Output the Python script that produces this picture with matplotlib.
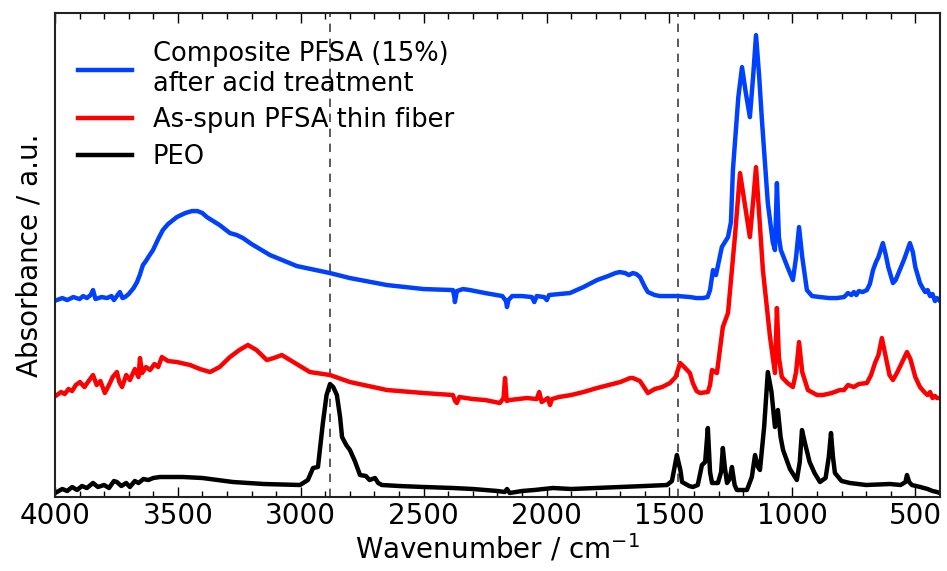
import matplotlib.pyplot as plt
import numpy as np

# wavenumber (cm-1) and absorbance (a.u., offset)
composite_wn = [3992, 3970, 3950, 3925, 3900, 3885, 3870, 3855, 3845, 3835, 3810, 3788,
                3770, 3760, 3745, 3736, 3725, 3715, 3700, 3690, 3680, 3666, 3655, 3642,
                3630, 3620, 3601, 3580, 3561, 3540, 3504, 3470, 3443, 3420, 3400, 3382,
                3330, 3288, 3260, 3235, 3200, 3125, 3016, 2881, 2800, 2649, 2500, 2390,
                2381, 2375, 2373, 2365, 2340, 2312, 2250, 2180, 2165, 2161, 2155, 2140,
                2100, 2060, 2050, 2040, 2010, 1999, 1990, 1950, 1905, 1850, 1795, 1750,
                1720, 1702, 1680, 1665, 1649, 1635, 1620, 1600, 1588, 1560, 1539, 1500,
                1465, 1417, 1390, 1364, 1345, 1335, 1323, 1311, 1300, 1287, 1262, 1250,
                1242, 1220, 1205, 1190, 1173, 1160, 1148, 1135, 1124, 1100, 1080, 1071,
                1063, 1055, 1047, 1020, 998, 985, 973, 960, 941, 920, 888, 850, 819, 790,
                774, 760, 750, 740, 730, 715, 697, 685, 672, 660, 650, 632, 620, 610,
                591, 580, 575, 563, 545, 522, 510, 500, 481, 470, 460, 450, 440, 430,
                420, 412, 400]
composite_abs = [1.97, 1.99, 1.97, 2.00, 1.98, 2.01, 1.99, 2.02, 2.07, 1.98, 2.00, 1.99,
                 2.01, 1.97, 2.02, 2.05, 1.99, 2.00, 2.03, 2.06, 2.09, 2.15, 2.22, 2.32,
                 2.36, 2.40, 2.47, 2.58, 2.67, 2.73, 2.80, 2.84, 2.86, 2.86, 2.84, 2.80,
                 2.72, 2.64, 2.62, 2.59, 2.53, 2.42, 2.31, 2.24, 2.19, 2.12, 2.08, 2.07,
                 2.07, 2.00, 1.95, 2.06, 2.08, 2.07, 2.04, 2.01, 1.96, 1.90, 1.97, 2.01,
                 2.01, 2.00, 1.95, 2.01, 2.00, 1.97, 2.02, 2.03, 2.04, 2.10, 2.17, 2.21,
                 2.24, 2.25, 2.24, 2.22, 2.24, 2.23, 2.20, 2.10, 2.05, 2.02, 2.01, 2.01,
                 2.01, 2.00, 1.99, 1.99, 2.00, 2.07, 2.27, 2.22, 2.35, 2.50, 2.60, 2.75,
                 3.27, 4.00, 4.30, 4.05, 3.80, 4.20, 4.62, 4.20, 3.77, 2.94, 2.55, 2.47,
                 3.14, 2.60, 2.47, 2.30, 2.17, 2.40, 2.70, 2.40, 2.07, 2.01, 2.00, 1.99,
                 1.99, 2.00, 2.04, 2.02, 2.05, 2.02, 2.06, 2.05, 2.07, 2.13, 2.27, 2.35,
                 2.40, 2.54, 2.42, 2.30, 2.14, 2.17, 2.20, 2.27, 2.38, 2.54, 2.45, 2.30,
                 2.14, 2.09, 2.05, 2.07, 2.01, 2.03, 1.96, 1.99, 1.96]

asspun_wn = [3992, 3975, 3960, 3945, 3930, 3915, 3898, 3880, 3860, 3845, 3830, 3815,
             3797, 3780, 3765, 3748, 3738, 3727, 3710, 3695, 3675, 3660, 3654, 3645,
             3630, 3613, 3595, 3580, 3565, 3540, 3504, 3450, 3410, 3369, 3330, 3288,
             3250, 3215, 3180, 3138, 3110, 3077, 3030, 2963, 2881, 2800, 2649, 2500,
             2381, 2372, 2365, 2355, 2300, 2250, 2190, 2175, 2169, 2162, 2150, 2080,
             2040, 2030, 2020, 1995, 1986, 1978, 1950, 1900, 1850, 1795, 1700, 1660,
             1649, 1620, 1588, 1560, 1530, 1498, 1475, 1457, 1440, 1417, 1405, 1390,
             1376, 1344, 1335, 1327, 1307, 1283, 1262, 1234, 1213, 1195, 1173, 1160,
             1148, 1120, 1091, 1071, 1063, 1055, 1043, 1020, 998, 985, 973, 960, 937,
             900, 876, 840, 807, 790, 774, 750, 730, 697, 680, 664, 650, 636, 620, 605,
             591, 575, 563, 534, 520, 500, 481, 460, 450, 440, 430, 420, 412, 400]
asspun_abs = [1.02, 1.05, 1.03, 1.08, 1.06, 1.12, 1.15, 1.10, 1.17, 1.22, 1.12, 1.16,
              1.04, 1.12, 1.20, 1.25, 1.15, 1.10, 1.22, 1.17, 1.28, 1.20, 1.39, 1.24,
              1.30, 1.27, 1.33, 1.30, 1.40, 1.36, 1.35, 1.32, 1.28, 1.25, 1.30, 1.40,
              1.47, 1.52, 1.47, 1.37, 1.39, 1.42, 1.35, 1.25, 1.22, 1.15, 1.07, 1.04,
              1.02, 0.96, 0.94, 1.00, 0.98, 0.97, 0.94, 0.99, 1.19, 0.96, 0.97, 0.99,
              0.98, 1.05, 0.95, 0.99, 0.92, 0.98, 1.00, 1.02, 1.05, 1.09, 1.15, 1.19,
              1.19, 1.16, 1.04, 1.08, 1.10, 1.14, 1.20, 1.34, 1.30, 1.24, 1.14, 1.06,
              1.04, 1.05, 1.12, 1.27, 1.24, 1.70, 1.84, 2.60, 3.24, 2.95, 2.60, 2.95,
              3.30, 2.27, 1.60, 1.24, 1.89, 1.40, 1.20, 1.14, 1.10, 1.25, 1.55, 1.25,
              1.07, 1.02, 1.02, 1.04, 1.07, 1.07, 1.12, 1.10, 1.13, 1.14, 1.22, 1.34,
              1.42, 1.59, 1.40, 1.22, 1.17, 1.24, 1.30, 1.45, 1.38, 1.20, 1.10, 1.04,
              1.02, 1.05, 0.99, 1.01, 0.99, 0.99]

peo_wn = [3992, 3970, 3950, 3930, 3910, 3890, 3870, 3845, 3825, 3800, 3780, 3760,
          3748, 3730, 3710, 3695, 3675, 3660, 3640, 3620, 3600, 3573, 3540, 3479,
          3400, 3276, 3150, 3003, 2971, 2950, 2930, 2910, 2895, 2881, 2868, 2853,
          2840, 2832, 2815, 2800, 2780, 2759, 2735, 2720, 2698, 2685, 2670, 2600,
          2500, 2381, 2300, 2200, 2170, 2161, 2150, 2100, 2050, 1974, 1900, 1800,
          1700, 1600, 1510, 1490, 1470, 1455, 1449, 1420, 1405, 1385, 1368, 1355,
          1344, 1335, 1327, 1303, 1290, 1283, 1275, 1266, 1255, 1246, 1235, 1226,
          1200, 1185, 1165, 1152, 1140, 1132, 1115, 1100, 1085, 1071, 1059, 1048,
          1038, 1010, 982, 970, 961, 949, 930, 910, 888, 865, 852, 843, 835, 827,
          800, 766, 700, 603, 560, 540, 534, 525, 514, 480, 450, 430, 412, 400]
peo_abs = [0.05, 0.08, 0.06, 0.10, 0.07, 0.11, 0.09, 0.14, 0.10, 0.12, 0.09, 0.16,
           0.15, 0.11, 0.14, 0.10, 0.16, 0.14, 0.18, 0.17, 0.19, 0.20, 0.20, 0.20,
           0.19, 0.15, 0.13, 0.12, 0.17, 0.29, 0.30, 0.74, 1.02, 1.13, 1.10, 1.02,
           0.80, 0.60, 0.52, 0.47, 0.36, 0.22, 0.21, 0.17, 0.19, 0.14, 0.12, 0.11,
           0.10, 0.09, 0.08, 0.06, 0.05, 0.08, 0.04, 0.06, 0.07, 0.09, 0.08, 0.09,
           0.10, 0.11, 0.12, 0.16, 0.42, 0.26, 0.15, 0.11, 0.10, 0.12, 0.32, 0.35,
           0.69, 0.25, 0.14, 0.14, 0.25, 0.49, 0.30, 0.14, 0.18, 0.30, 0.12, 0.07,
           0.07, 0.07, 0.20, 0.42, 0.30, 0.27, 0.70, 1.25, 1.05, 0.70, 0.87, 0.60,
           0.47, 0.28, 0.17, 0.35, 0.67, 0.54, 0.35, 0.24, 0.15, 0.19, 0.40, 0.64,
           0.40, 0.24, 0.16, 0.14, 0.12, 0.13, 0.12, 0.15, 0.22, 0.15, 0.12, 0.10,
           0.08, 0.06, 0.05, 0.04]

labels = ['Composite PFSA (15%)\nafter acid treatment', 'As-spun PFSA thin fiber', 'PEO']
colors = ['#0040ff', '#ff0000', 'black']
marker_lines = [2881, 1465]

fig = plt.figure(figsize=(9.47, 5.71), dpi=100)
ax = fig.add_axes([0.058, 0.1296, 0.9345, 0.8474])

ax.plot(composite_wn, composite_abs, color=colors[0], lw=3.2, label=labels[0])
ax.plot(asspun_wn, asspun_abs, color=colors[1], lw=3.2, label=labels[1])
ax.plot(peo_wn, peo_abs, color=colors[2], lw=3.2, label=labels[2])

for xv in marker_lines:
    ax.axvline(xv, color='#404040', lw=1.2, ls=(0, (5, 4)), zorder=0)

ax.set_xlim(4000, 400)
ax.set_ylim(0, 4.84)
ax.set_xticks(np.arange(4000, 400, -500))
ax.set_xticks(np.arange(4000, 400, -100), minor=True)
ax.set_yticks([])
ax.tick_params(axis='x', which='both', direction='in', top=True, labelsize=20)
ax.tick_params(axis='x', which='major', length=7, width=1)
ax.tick_params(axis='x', which='minor', length=4, width=1)
for s in ax.spines.values():
    s.set_linewidth(1.5)
    s.set_color('#222222')

ax.set_xlabel('Wavenumber / cm$^{-1}$', fontsize=20, labelpad=2)
ax.set_ylabel('Absorbance / a.u.', fontsize=20, labelpad=8)

ax.legend(loc='upper left', bbox_to_anchor=(0.0, 0.99), frameon=False, fontsize=18.5,
          handlelength=2.1, handletextpad=0.8, labelspacing=0.4)

fig.savefig('out.png', dpi=100)
